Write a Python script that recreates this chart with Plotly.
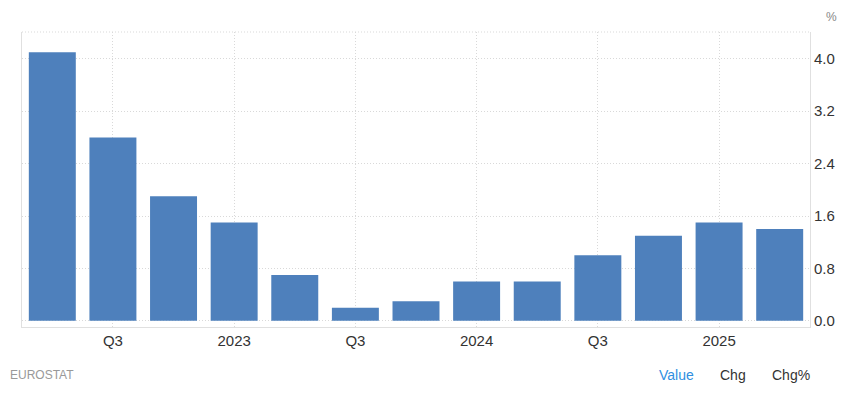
import plotly.graph_objects as go

quarters = ["2022Q2", "2022Q3", "2022Q4", "2023Q1", "2023Q2", "2023Q3", "2023Q4",
            "2024Q1", "2024Q2", "2024Q3", "2024Q4", "2025Q1", "2025Q2"]
values = [4.1, 2.8, 1.9, 1.5, 0.7, 0.2, 0.3, 0.6, 0.6, 1.0, 1.3, 1.5, 1.4]
tick_cats = ["2022Q3", "2023Q1", "2023Q3", "2024Q1", "2024Q3", "2025Q1"]
tick_labels = ["Q3", "2023", "Q3", "2024", "Q3", "2025"]
y_ticks = [0.0, 0.8, 1.6, 2.4, 3.2, 4.0]

BAR = "#4e80bc"
GRID = "#d9d9d9"
FONT = "Liberation Sans, Arial, sans-serif"

fig = go.Figure(go.Bar(x=quarters, y=values, marker_color=BAR, marker_line_width=0,
                       width=0.775))

# page body has an 8px margin, so the figure is drawn 8px in from top-left
fig.update_layout(
    width=847, height=391,
    margin=dict(l=14, r=45, t=24, b=72),
    paper_bgcolor="white", plot_bgcolor="white",
    showlegend=False,
    font=dict(family=FONT, size=14, color="#333333"),
)
fig.update_xaxes(
    type="category", categoryorder="array", categoryarray=quarters,
    tickvals=tick_cats, ticktext=tick_labels,
    showgrid=True, gridcolor=GRID, griddash="1px,2px", gridwidth=1,
    showline=True, linecolor="#e0e0e0", linewidth=1,
    ticks="", tickfont=dict(size=15, color="#333333"),
    range=[-0.5, 12.5],
)
fig.update_yaxes(
    side="right", range=[-0.095, 4.41],
    tickvals=y_ticks, ticktext=[f"{v:.1f}" for v in y_ticks],
    showgrid=True, gridcolor=GRID, griddash="1px,2px", gridwidth=1,
    zeroline=False,
    showline=True, linecolor="#e0e0e0", linewidth=1, mirror=True,
    ticks="", tickfont=dict(size=15, color="#333333"),
)
fig.add_shape(type="line", xref="paper", yref="paper", x0=0, x1=1, y0=1, y1=1,
              line=dict(color=GRID, width=1, dash="1px,2px"))

fig.add_annotation(text="%", xref="paper", yref="paper", x=1.0, y=1.0,
                   xanchor="left", yanchor="bottom", xshift=14, yshift=6,
                   showarrow=False, font=dict(size=12, color="#888888"))
fig.add_annotation(text="EUROSTAT", xref="paper", yref="paper", x=0, y=0,
                   xanchor="left", yanchor="middle", xshift=-14, yshift=-48,
                   showarrow=False, font=dict(size=12, color="#999999"))
fig.add_annotation(text="Value", xref="paper", yref="paper", x=1, y=0,
                   xanchor="center", yanchor="middle", xshift=-134, yshift=-48,
                   showarrow=False, font=dict(size=14, color="#2f8fdf"))
fig.add_annotation(text="Chg", xref="paper", yref="paper", x=1, y=0,
                   xanchor="center", yanchor="middle", xshift=-77, yshift=-48,
                   showarrow=False, font=dict(size=14, color="#333333"))
fig.add_annotation(text="Chg%", xref="paper", yref="paper", x=1, y=0,
                   xanchor="center", yanchor="middle", xshift=-19, yshift=-48,
                   showarrow=False, font=dict(size=14, color="#333333"))

fig.write_html("out.html")
